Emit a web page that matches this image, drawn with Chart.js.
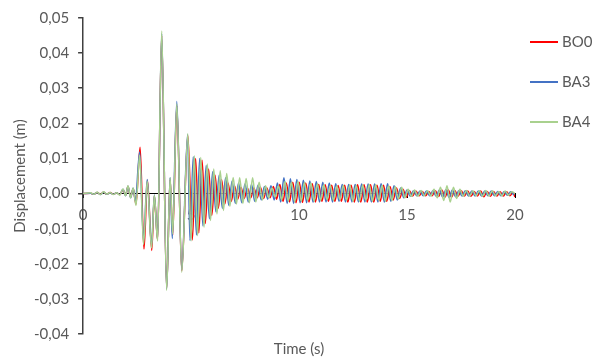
<!DOCTYPE html>
<html>
<head>
<meta charset="utf-8">
<script src="https://cdn.jsdelivr.net/npm/chart.js@4.4.1/dist/chart.umd.min.js"></script>
<style>
  body { margin: 0; background: #fff; }
  #wrap { position: relative; width: 595px; height: 360px; }
  #legend { position: absolute; left: 530px; top: 32px; font: 15px Lato, sans-serif; color: #595959; }
  .item { height: 40px; display: flex; align-items: flex-start; }
  .item span.swatch { display: inline-block; width: 28px; height: 2px; margin-top: 9px; margin-right: 4px; }
</style>
</head>
<body>
<div id="wrap">
  <canvas id="myChart" width="595" height="360"></canvas>
  <div id="legend"></div>
</div>
<script>
const seriesNames = ['BO0', 'BA3', 'BA4'];
const colors = ['#ff0000', '#4472c4', '#a9d18e'];
const yTicks = [-0.04, -0.03, -0.02, -0.01, 0, 0.01, 0.02, 0.03, 0.04, 0.05];
const xTicks = [0, 5, 10, 15, 20];

// BO0 (red)
const timeBO0 = [
  0, 0.35, 0.5, 0.65, 0.8, 0.95, 1.1, 1.25, 1.4, 1.55,
  1.7, 1.85, 1.97, 2.08, 2.2, 2.32, 2.45, 2.64, 2.82, 2.98,
  3.18, 3.3, 3.45, 3.64, 3.87, 4.03, 4.15, 4.34, 4.57, 4.85,
  5.06, 5.21, 5.36, 5.51, 5.66, 5.81, 5.96, 6.11, 6.26, 6.41,
  6.56, 6.71, 6.86, 7.01, 7.16, 7.31, 7.46, 7.61, 7.76, 7.91,
  8.06, 8.21, 8.36, 8.51, 8.66, 8.81, 8.96, 9.11, 9.26, 9.41,
  9.56, 9.71, 9.86, 10.01, 10.16, 10.31, 10.46, 10.61, 10.76, 10.91,
  11.06, 11.21, 11.36, 11.51, 11.66, 11.81, 11.96, 12.11, 12.26, 12.41,
  12.56, 12.71, 12.86, 13.01, 13.16, 13.31, 13.46, 13.61, 13.76, 13.91,
  14.06, 14.21, 14.36, 14.51, 14.66, 14.81, 14.96, 15.11, 15.26, 15.41,
  15.56, 15.71, 15.86, 16.01, 16.16, 16.31, 16.46, 16.61, 16.76, 16.91,
  17.06, 17.21, 17.36, 17.51, 17.66, 17.81, 17.96, 18.11, 18.26, 18.41,
  18.56, 18.71, 18.86, 19.01, 19.16, 19.31, 19.46, 19.61, 19.76, 19.91,
  20
];
const dispBO0 = [
  0, 0.0001, -0.0002, 0.0003, -0.0002, 0.0004, -0.0002, 0.0003, -0.0002, 0.0002,
  -0.0003, 0.0011, -0.0005, 0.0020, -0.0010, 0.0014, -0.0030, 0.0132, -0.0158, 0.0038,
  -0.0162, -0.0006, -0.0132, 0.0450, -0.0270, 0.0040, -0.0118, 0.0250, -0.0220, 0.0165,
  -0.0132, 0.0100, -0.0112, 0.0095, -0.0085, 0.0070, -0.0062, 0.0052, -0.0042, 0.0040,
  -0.0030, 0.0030, -0.0022, 0.0022, -0.0016, 0.0018, -0.0014, 0.0015, -0.0012, 0.0016,
  -0.0012, 0.0018, -0.0014, 0.0016, -0.0012, 0.0020, -0.0016, 0.0026, -0.0022, 0.0030,
  -0.0024, 0.0032, -0.0026, 0.0032, -0.0025, 0.0030, -0.0024, 0.0028, -0.0024, 0.0026,
  -0.0022, 0.0025, -0.0022, 0.0024, -0.0022, 0.0023, -0.0022, 0.0024, -0.0024, 0.0024,
  -0.0024, 0.0025, -0.0024, 0.0025, -0.0024, 0.0025, -0.0024, 0.0024, -0.0022, 0.0024,
  -0.0022, 0.0020, -0.0018, 0.0016, -0.0014, 0.0012, -0.0010, 0.0008, -0.0007, 0.0007,
  -0.0006, 0.0006, -0.0006, 0.0006, -0.0006, 0.0008, -0.0008, 0.0010, -0.0010, 0.0010,
  -0.0010, 0.0009, -0.0008, 0.0008, -0.0007, 0.0007, -0.0008, 0.0006, -0.0007, 0.0007,
  -0.0009, 0.0006, -0.0008, 0.0006, -0.0007, 0.0005, -0.0007, 0.0005, -0.0006, 0.0003,
  -0.0010
];

// BA3 (blue)
const timeBA3 = [
  0, 0.35, 0.5, 0.65, 0.8, 0.95, 1.1, 1.25, 1.4, 1.55,
  1.7, 1.85, 1.97, 2.08, 2.2, 2.32, 2.42, 2.62, 2.8, 2.97,
  3.17, 3.3, 3.45, 3.64, 3.87, 4.03, 4.13, 4.34, 4.57, 4.84,
  4.95, 5.1, 5.25, 5.4, 5.55, 5.7, 5.85, 6, 6.15, 6.3,
  6.45, 6.6, 6.75, 6.9, 7.05, 7.2, 7.35, 7.5, 7.65, 7.8,
  7.95, 8.1, 8.25, 8.4, 8.55, 8.7, 8.85, 9, 9.15, 9.3,
  9.45, 9.6, 9.75, 9.9, 10.05, 10.2, 10.35, 10.5, 10.65, 10.8,
  10.95, 11.1, 11.25, 11.4, 11.55, 11.7, 11.85, 12, 12.15, 12.3,
  12.45, 12.6, 12.75, 12.9, 13.05, 13.2, 13.35, 13.5, 13.65, 13.8,
  13.95, 14.1, 14.25, 14.4, 14.55, 14.7, 14.85, 15, 15.15, 15.3,
  15.45, 15.6, 15.75, 15.9, 16.05, 16.2, 16.35, 16.5, 16.65, 16.8,
  16.95, 17.1, 17.25, 17.4, 17.55, 17.7, 17.85, 18, 18.15, 18.3,
  18.45, 18.6, 18.75, 18.9, 19.05, 19.2, 19.35, 19.5, 19.65, 19.8,
  19.95
];
const dispBA3 = [
  0, 0.0001, -0.0002, 0.0003, -0.0003, 0.0004, -0.0002, 0.0002, -0.0002, 0.0002,
  -0.0003, 0.0012, -0.0006, 0.0021, -0.0012, 0.0015, -0.0021, 0.0118, -0.0135, 0.0040,
  -0.0148, -0.0004, -0.0130, 0.0455, -0.0272, 0.0046, -0.0128, 0.0262, -0.0218, 0.0168,
  -0.0134, 0.0105, -0.0118, 0.0100, -0.0092, 0.0080, -0.0072, 0.0062, -0.0052, 0.0052,
  -0.0042, 0.0045, -0.0034, 0.0036, -0.0028, 0.0030, -0.0026, 0.0028, -0.0024, 0.0026,
  -0.0022, 0.0024, -0.0018, 0.0020, -0.0016, 0.0022, -0.0018, 0.0030, -0.0024, 0.0045,
  -0.0028, 0.0042, -0.0028, 0.0040, -0.0026, 0.0038, -0.0026, 0.0036, -0.0025, 0.0034,
  -0.0024, 0.0032, -0.0024, 0.0030, -0.0024, 0.0028, -0.0022, 0.0026, -0.0024, 0.0026,
  -0.0024, 0.0026, -0.0024, 0.0027, -0.0024, 0.0027, -0.0024, 0.0027, -0.0024, 0.0028,
  -0.0024, 0.0028, -0.0022, 0.0022, -0.0018, 0.0016, -0.0012, 0.0010, -0.0008, 0.0008,
  -0.0006, 0.0007, -0.0006, 0.0007, -0.0006, 0.0008, -0.0008, 0.0010, -0.0010, 0.0011,
  -0.0011, 0.0010, -0.0009, 0.0008, -0.0007, 0.0008, -0.0007, 0.0007, -0.0007, 0.0007,
  -0.0007, 0.0007, -0.0006, 0.0007, -0.0006, 0.0006, -0.0006, 0.0006, -0.0005, 0.0005,
  -0.0004
];

// BA4 (green)
const timeBA4 = [
  0, 0.35, 0.5, 0.65, 0.8, 0.95, 1.1, 1.25, 1.4, 1.55,
  1.7, 1.85, 1.97, 2.08, 2.2, 2.32, 2.45, 2.62, 2.8, 2.97,
  3.17, 3.3, 3.45, 3.64, 3.87, 4.03, 4.15, 4.34, 4.57, 4.85,
  5, 5.15, 5.3, 5.45, 5.6, 5.75, 5.9, 6.05, 6.2, 6.35,
  6.5, 6.65, 6.8, 6.95, 7.1, 7.25, 7.4, 7.55, 7.7, 7.85,
  8, 8.15, 8.3, 8.45, 8.6, 8.75, 8.9, 9.05, 9.2, 9.35,
  9.5, 9.65, 9.8, 9.95, 10.1, 10.25, 10.4, 10.55, 10.7, 10.85,
  11, 11.15, 11.3, 11.45, 11.6, 11.75, 11.9, 12.05, 12.2, 12.35,
  12.5, 12.65, 12.8, 12.95, 13.1, 13.25, 13.4, 13.55, 13.7, 13.85,
  14, 14.15, 14.3, 14.45, 14.6, 14.75, 14.9, 15.05, 15.2, 15.35,
  15.5, 15.65, 15.8, 15.95, 16.1, 16.25, 16.4, 16.55, 16.7, 16.85,
  17, 17.15, 17.3, 17.45, 17.6, 17.75, 17.9, 18.05, 18.2, 18.35,
  18.5, 18.65, 18.8, 18.95, 19.1, 19.25, 19.4, 19.55, 19.7, 19.85,
  20
];
const dispBA4 = [
  0, 0.0002, -0.0002, 0.0004, -0.0003, 0.0005, -0.0002, 0.0003, -0.0003, 0.0002,
  -0.0004, 0.0013, -0.0006, 0.0022, -0.0012, 0.0016, -0.0034, 0.0110, -0.0145, 0.0035,
  -0.0155, -0.0005, -0.0135, 0.0463, -0.0276, 0.0045, -0.0115, 0.0255, -0.0224, 0.0170,
  -0.0135, 0.0108, -0.0120, 0.0103, -0.0096, 0.0084, -0.0077, 0.0070, -0.0058, 0.0065,
  -0.0048, 0.0057, -0.0036, 0.0046, -0.0030, 0.0045, -0.0028, 0.0043, -0.0026, 0.0045,
  -0.0024, 0.0032, -0.0018, 0.0022, -0.0012, 0.0016, -0.0010, 0.0022, -0.0018, 0.0034,
  -0.0022, 0.0033, -0.0024, 0.0035, -0.0022, 0.0032, -0.0020, 0.0030, -0.0022, 0.0028,
  -0.0020, 0.0025, -0.0018, 0.0024, -0.0020, 0.0022, -0.0018, 0.0024, -0.0020, 0.0025,
  -0.0022, 0.0024, -0.0022, 0.0025, -0.0020, 0.0026, -0.0022, 0.0025, -0.0020, 0.0024,
  -0.0022, 0.0022, -0.0020, 0.0020, -0.0016, 0.0018, -0.0012, 0.0012, -0.0008, 0.0010,
  -0.0008, 0.0009, -0.0006, 0.0008, -0.0007, 0.0012, -0.0012, 0.0018, -0.0020, 0.0022,
  -0.0024, 0.0018, -0.0014, 0.0012, -0.0008, 0.0009, -0.0007, 0.0008, -0.0006, 0.0008,
  -0.0008, 0.0009, -0.0007, 0.0008, -0.0006, 0.0006, -0.0006, 0.0007, -0.0005, 0.0005,
  0
];

const toPoints = (times, values) => times.map((t, i) => ({ x: t, y: values[i] }));
const seriesData = [toPoints(timeBO0, dispBO0), toPoints(timeBA3, dispBA3), toPoints(timeBA4, dispBA4)];

const fmt = v => Math.abs(v) < 1e-9 ? '0,00' : v.toFixed(2).replace('.', ',');
const textColor = '#595959';
const fontFamily = 'Lato, sans-serif';

const datasets = seriesNames.map((name, i) => ({
  label: name,
  data: seriesData[i],
  borderColor: colors[i],
  backgroundColor: colors[i],
  borderWidth: 1.5,
  pointRadius: 0,
  cubicInterpolationMode: 'monotone',
  xAxisID: 'x',
  yAxisID: 'y',
  order: seriesNames.length - i   // BA4 drawn last, on top
}));

const config = {
  type: 'line',
  data: { datasets: datasets },
  options: {
    responsive: false,
    animation: false,
    layout: { padding: { top: 17, right: 80, left: 11, bottom: 0 } },
    plugins: { legend: { display: false }, tooltip: { enabled: false } },
    scales: {
      x: {
        type: 'linear',
        position: { y: 0 },
        min: 0, max: 20,
        afterBuildTicks: axis => { axis.ticks = xTicks.map(v => ({ value: v })); },
        ticks: { color: textColor, font: { family: fontFamily, size: 15 }, padding: 9, maxRotation: 0 },
        grid: { drawOnChartArea: false, drawTicks: true, tickLength: 4, color: '#000' },
        border: { color: '#000', width: 1 }
      },
      xTitle: {
        type: 'linear',
        axis: 'x',
        position: 'bottom',
        min: 0, max: 20,
        ticks: { display: false },
        grid: { display: false, drawTicks: false },
        border: { display: false },
        title: { display: true, text: 'Time (s)', color: textColor, font: { family: fontFamily, size: 15 }, padding: { top: 6, bottom: 2 } }
      },
      y: {
        type: 'linear',
        position: 'left',
        min: -0.04, max: 0.05,
        afterBuildTicks: axis => { axis.ticks = yTicks.map(v => ({ value: v })); },
        ticks: { color: textColor, font: { family: fontFamily, size: 15 }, padding: 9, callback: v => fmt(v) },
        grid: { drawOnChartArea: false, drawTicks: true, tickLength: 5, color: '#404040', lineWidth: 1.5 },
        border: { color: '#404040', width: 1.5 },
        title: { display: true, text: 'Displacement (m)', color: textColor, font: { family: fontFamily, size: 15 }, padding: { top: 0, bottom: -4 } }
      }
    }
  }
};

const myChart = new Chart(document.getElementById('myChart'), config);

// legend, drawn beside the chart like the original
const legendDiv = document.getElementById('legend');
seriesNames.forEach((name, i) => {
  const item = document.createElement('div');
  item.className = 'item';
  const sw = document.createElement('span');
  sw.className = 'swatch';
  sw.style.background = colors[i];
  const label = document.createElement('span');
  label.textContent = name;
  item.appendChild(sw);
  item.appendChild(label);
  legendDiv.appendChild(item);
});
</script>
</body>
</html>
